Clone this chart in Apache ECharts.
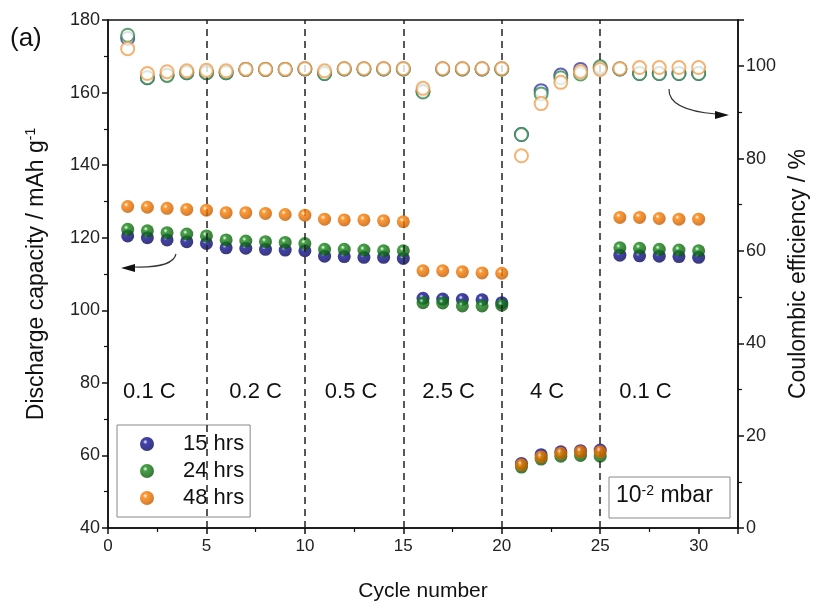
<!DOCTYPE html>
<html><head><meta charset="utf-8">
<script src="https://cdn.jsdelivr.net/npm/echarts@6/dist/echarts.min.js"></script>
<style>html,body{margin:0;padding:0;background:#fff}#c{width:826px;height:608px}</style>
</head><body><div id="c"></div>
<script>
const cycles = Array.from({length:30},(_,i)=>i+1);
const cap15 = [120.5,120.0,119.4,118.9,118.4, 117.2,117.1,116.8,116.6,116.4, 114.9,114.8,114.6,114.6,114.3, 103.3,103.1,103.0,102.9,102.1, 57.8,60.2,61.0,61.3,61.5, 115.2,115.0,114.9,114.8,114.6];
const cap24 = [122.3,121.9,121.4,121.0,120.5, 119.4,119.1,118.9,118.7,118.4, 116.8,116.8,116.6,116.4,116.4, 102.1,102.0,101.2,101.2,101.4, 56.8,59.0,59.8,60.0,59.8, 117.2,117.1,116.8,116.6,116.4];
const cap48 = [128.6,128.4,128.1,127.8,127.6, 126.9,126.9,126.7,126.4,126.2, 125.1,124.9,124.9,124.7,124.4, 110.9,110.9,110.6,110.3,110.2, 57.4,59.6,60.6,61.0,61.0, 125.6,125.6,125.3,125.1,125.1];
const eff15 = [106.0,97.5,98.1,98.6,98.6, 98.6,99.3,99.3,99.3,99.4, 98.4,99.4,99.4,99.4,99.4, 94.6,99.4,99.4,99.4,99.4, 85.2,94.7,98.1,99.3,99.6, 99.4,98.4,98.4,98.4,98.4];
const eff24 = [106.7,97.5,98.0,98.6,98.6, 98.6,99.3,99.3,99.3,99.4, 98.4,99.4,99.4,99.4,99.4, 94.4,99.4,99.4,99.4,99.4, 85.2,94.0,97.5,98.3,99.85, 99.4,98.4,98.4,98.4,98.4];
const eff48 = [103.8,98.4,98.8,99.0,99.1, 99.0,99.35,99.35,99.35,99.5, 99.0,99.5,99.5,99.5,99.5, 95.2,99.5,99.5,99.5,99.5, 80.6,91.9,96.5,98.8,99.3, 99.5,99.7,99.7,99.7,99.7];
const seriesNames = ['15 hrs','24 hrs','48 hrs'];
const rateBoundaries = [5,10,15,20,25];
const rateLabels = ['0.1 C','0.2 C','0.5 C','2.5 C','4 C','0.1 C'];
const rateLabelX = [2.1,7.5,12.35,17.3,22.3,27.3];
const rateLabelY = 77.5;

const baseColors = ['#12129c','#168a16','#ff8000'];
const darkColors = ['#05054a','#0a4a0a','#b85400'];
const ringColors = ['#3a3aaa','#3a8e4a','#f2a050'];
function sphere(i){
  return {type:'radial',x:0.38,y:0.35,r:0.75,colorStops:[
    {offset:0,color:'#ffffff'},{offset:0.22,color:baseColors[i]},{offset:1,color:darkColors[i]}]};
}
const pair = (arr)=>cycles.map((c,i)=>[c,arr[i]]);
const caps = [cap15,cap24,cap48];
const effs = [eff15,eff24,eff48];
const series = [];
caps.forEach((a,i)=>series.push({
  name:seriesNames[i],type:'scatter',yAxisIndex:0,data:pair(a),symbol:'circle',symbolSize:13,
  itemStyle:{color:sphere(i)},z:3+i
}));
effs.forEach((a,i)=>series.push({
  name:'eff'+i,type:'scatter',yAxisIndex:1,data:pair(a),symbol:'emptyCircle',symbolSize:13,
  itemStyle:{color:ringColors[i],borderColor:ringColors[i],borderWidth:1.6},z:3+i
}));
series.push({
  type:'scatter',yAxisIndex:0,data:[],silent:true,z:1,
  markLine:{silent:true,symbol:'none',label:{show:false},
    lineStyle:{type:[7,5],color:'#222',width:1.5},
    data:rateBoundaries.map(x=>({xAxis:x}))},
  markPoint:{silent:true,symbol:'circle',symbolSize:0,
    label:{show:true,position:'inside',fontSize:22,color:'#111',fontFamily:'Liberation Sans, Arial'},
    data:rateLabels.map((t,i)=>({coord:[rateLabelX[i],rateLabelY],value:t,label:{formatter:t}}))}
});

const chart = echarts.init(document.getElementById('c'));
const font = 'Liberation Sans, Arial, sans-serif';
chart.setOption({
  animation:false,
  textStyle:{fontFamily:font},
  grid:{left:108,right:88,top:20,bottom:80,show:true,borderColor:'#111',borderWidth:1.5,backgroundColor:'transparent'},
  xAxis:{type:'value',min:0,max:32,interval:5,
    name:'Cycle number',nameLocation:'middle',nameGap:53,nameTextStyle:{fontSize:21,color:'#111'},
    axisLine:{lineStyle:{color:'#111',width:1.5}},
    axisTick:{inside:false,length:6,lineStyle:{color:'#111',width:1.5}},
    minorTick:{show:true,splitNumber:2,length:4,lineStyle:{color:'#111',width:1.2}},
    axisLabel:{fontSize:17,color:'#222',margin:10,formatter:v=>v%5===0?String(v):''},
    splitLine:{show:false}},
  yAxis:[
    {type:'value',min:40,max:180,interval:20,position:'left',
     name:'Discharge capacity / mAh g{s|-1}',nameLocation:'middle',nameGap:58,
     nameTextStyle:{fontSize:23,color:'#111',rich:{s:{fontSize:14,verticalAlign:'top',padding:[0,0,12,0]}}},
     axisLine:{show:true,lineStyle:{color:'#111',width:1.5}},
     axisTick:{show:true,length:6,lineStyle:{color:'#111',width:1.5}},
     minorTick:{show:true,splitNumber:2,length:4,lineStyle:{color:'#111',width:1.2}},
     axisLabel:{fontSize:18,color:'#222',margin:8},
     splitLine:{show:false}},
    {type:'value',min:0,max:110,interval:20,position:'right',
     name:'Coulombic efficiency / %',nameLocation:'middle',nameGap:32,nameRotate:90,
     nameTextStyle:{fontSize:23,color:'#111'},
     axisLine:{show:true,lineStyle:{color:'#111',width:1.5}},
     axisTick:{show:true,length:6,lineStyle:{color:'#111',width:1.5}},
     minorTick:{show:true,splitNumber:2,length:4,lineStyle:{color:'#111',width:1.2}},
     axisLabel:{fontSize:18,color:'#222',margin:8,formatter:v=>v%20===0?String(v):''},
     splitLine:{show:false}}
  ],
  legend:{data:seriesNames,orient:'vertical',left:117,top:425,
    padding:[8,6,8,23],itemGap:5,itemWidth:14,itemHeight:14,
    borderColor:'#888',borderWidth:1,backgroundColor:'#fff',
    textStyle:{fontSize:22,color:'#111',padding:[0,0,0,24],lineHeight:20}},
  graphic:[
    {type:'text',left:10,top:26,style:{text:'(a)',fontSize:26,fill:'#111',fontFamily:font}},
    {type:'rect',shape:{x:609,y:477,width:121,height:41},style:{fill:'#fff',stroke:'#888',lineWidth:1},z:10},
    {type:'text',x:616,y:484,z:11,style:{text:'10{s|-2} mbar',fontSize:23,fill:'#111',fontFamily:font,
      rich:{s:{fontSize:14,verticalAlign:'top',padding:[0,0,8,0]}}}},
    {type:'bezierCurve',shape:{x1:176,y1:254,cpx1:173,cpy1:268,x2:134,y2:267},style:{stroke:'#333',lineWidth:1.2,fill:null},z:10},
    {type:'polygon',shape:{points:[[121,268],[135,264],[135,272]]},style:{fill:'#111'},z:10},
    {type:'bezierCurve',shape:{x1:669,y1:89,cpx1:668,cpy1:110,x2:716,y2:114},style:{stroke:'#333',lineWidth:1.2,fill:null},z:10},
    {type:'polygon',shape:{points:[[729,115],[715,111],[715,119]]},style:{fill:'#111'},z:10}
  ],
  series:series
});
</script></body></html>
